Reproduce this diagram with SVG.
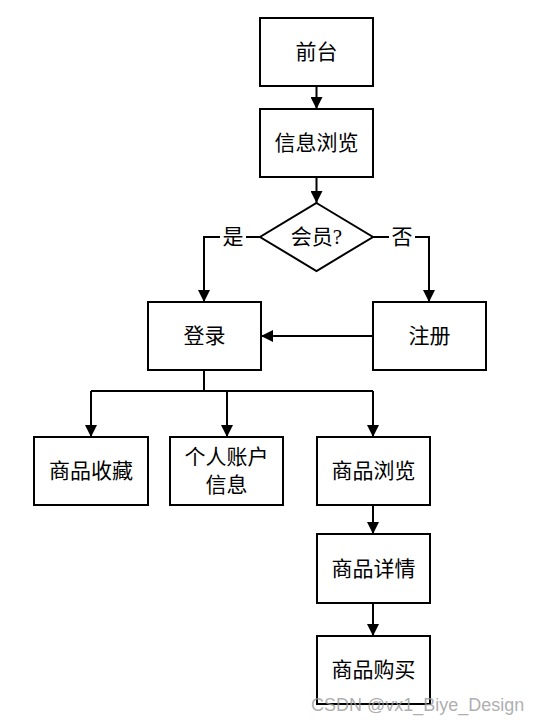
<svg xmlns="http://www.w3.org/2000/svg" width="543" height="723" viewBox="0 0 543 723">
<style>
.box{fill:#fff;stroke:#000;stroke-width:2}
.t{font-family:"Liberation Serif","Noto Sans CJK SC",serif;font-size:21px;fill:#000;text-anchor:middle;dominant-baseline:central}
.c{fill:none;stroke:#000;stroke-width:2}
.wm{font-family:"Liberation Sans",sans-serif;font-size:18px;fill:#999;fill-opacity:0.8}
</style>
<defs>
<marker id="ah" markerWidth="12" markerHeight="12" viewBox="0 0 12 12" refX="12" refY="6" orient="auto" markerUnits="userSpaceOnUse">
<path d="M0,0 L12,6 L0,12 Z" fill="#000"/>
</marker>
</defs>
<rect width="543" height="723" fill="#fff"/>
<g id="connectors">
<line class="c" x1="316.5" y1="86" x2="316.5" y2="109" marker-end="url(#ah)"/>
<line class="c" x1="316.5" y1="177" x2="316.5" y2="203" marker-end="url(#ah)"/>
<polyline class="c" points="260,237 204,237 204,302" marker-end="url(#ah)"/>
<polyline class="c" points="373,237 429,237 429,302" marker-end="url(#ah)"/>
<line class="c" x1="373" y1="336" x2="261" y2="336" marker-end="url(#ah)"/>
<line class="c" x1="204" y1="370" x2="204" y2="391"/>
<line class="c" x1="91" y1="391" x2="373" y2="391"/>
<line class="c" x1="91" y1="391" x2="91" y2="437" marker-end="url(#ah)"/>
<line class="c" x1="227" y1="391" x2="227" y2="437" marker-end="url(#ah)"/>
<line class="c" x1="373" y1="391" x2="373" y2="437" marker-end="url(#ah)"/>
<line class="c" x1="373" y1="505" x2="373" y2="534" marker-end="url(#ah)"/>
<line class="c" x1="373" y1="603" x2="373" y2="636" marker-end="url(#ah)"/>
<rect x="220" y="227" width="26" height="22" fill="#fff"/>
<text class="t" x="233" y="237">是</text>
<rect x="389" y="227" width="26" height="22" fill="#fff"/>
<text class="t" x="402" y="237">否</text>
</g>
<g id="n1"><rect class="box" x="260" y="18" width="113" height="68"/><text class="t" x="316.5" y="52">前台</text></g>
<g id="n2"><rect class="box" x="260" y="109" width="113" height="68"/><text class="t" x="316.5" y="143">信息浏览</text></g>
<g id="n3"><polygon class="box" points="316.5,203 373,237 316.5,271 260,237"/><text class="t" x="316.5" y="237">会员?</text></g>
<g id="n4"><rect class="box" x="148" y="302" width="113" height="68"/><text class="t" x="204.5" y="336">登录</text></g>
<g id="n5"><rect class="box" x="373" y="302" width="113" height="68"/><text class="t" x="429.5" y="336">注册</text></g>
<g id="n6"><rect class="box" x="34" y="437" width="114" height="68"/><text class="t" x="91" y="471">商品收藏</text></g>
<g id="n7"><rect class="box" x="170" y="437" width="113" height="68"/><text class="t" x="226.5" y="457">个人账户</text><text class="t" x="226.5" y="485">信息</text></g>
<g id="n8"><rect class="box" x="317" y="437" width="113" height="68"/><text class="t" x="373.5" y="471">商品浏览</text></g>
<g id="n9"><rect class="box" x="317" y="534" width="113" height="69"/><text class="t" x="373.5" y="569">商品详情</text></g>
<g id="n10"><rect class="box" x="317" y="636" width="113" height="68"/><text class="t" x="373.5" y="670">商品购买</text></g>
<text class="wm" x="311" y="711">CSDN @vx1_Biye_Design</text>
</svg>
